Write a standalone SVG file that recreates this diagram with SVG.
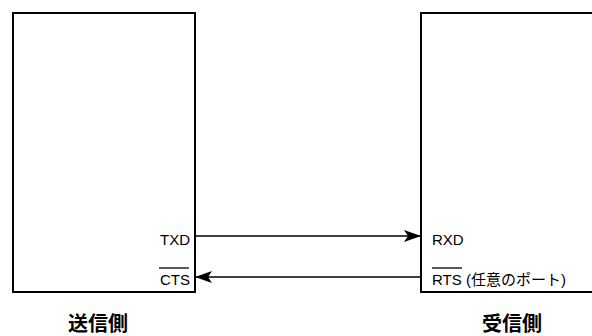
<svg xmlns="http://www.w3.org/2000/svg" width="592" height="336" viewBox="0 0 592 336">
<defs>
<style>
.box{fill:#fff;stroke:#000;stroke-width:2}
.wire{stroke:#000;stroke-width:1.5;fill:none}
.lbl{font-family:"Liberation Sans","Noto Sans CJK JP",sans-serif;font-size:15px;fill:#000}
.title{font-family:"Noto Sans CJK JP","Liberation Sans",sans-serif;font-size:20px;font-weight:bold;fill:#000}
.ovl{stroke:#000;stroke-width:1.3}
</style>
<marker id="arr" viewBox="0 0 17 12" refX="17" refY="6" markerWidth="17" markerHeight="12" markerUnits="userSpaceOnUse" orient="auto">
<path d="M0,0 L17,6 L0,12 L4,6 Z" fill="#000"/>
</marker>
</defs>
<g id="sender">
<rect class="box" x="13" y="13" width="182" height="279"/>
<text class="lbl" x="190" y="245" text-anchor="end">TXD</text>
<text class="lbl" x="190" y="285" text-anchor="end">CTS</text>
<line class="ovl" x1="159" y1="268" x2="189" y2="268"/>
<text class="title" x="98" y="331" text-anchor="middle">送信側</text>
</g>
<g id="receiver">
<rect class="box" x="421" y="13" width="180" height="279"/>
<text class="lbl" x="432" y="245">RXD</text>
<text class="lbl" x="432" y="285">RTS (任意のポート)</text>
<line class="ovl" x1="432" y1="268" x2="462" y2="268"/>
<text class="title" x="512" y="331" text-anchor="middle">受信側</text>
</g>
<g id="connectors">
<line class="wire" x1="195" y1="236" x2="421" y2="236" marker-end="url(#arr)"/>
<line class="wire" x1="421" y1="277" x2="195" y2="277" marker-end="url(#arr)"/>
</g>
</svg>
